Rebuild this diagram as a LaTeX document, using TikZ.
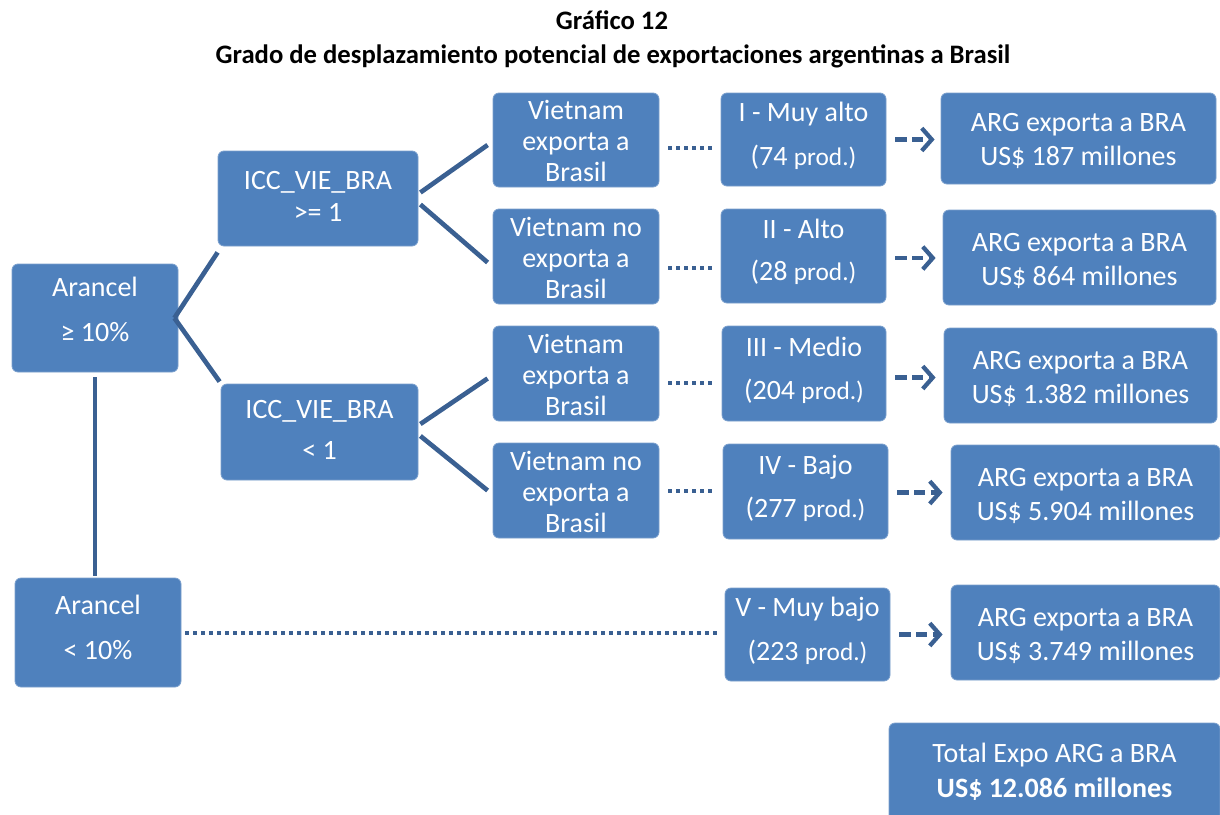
\documentclass[tikz,border=0pt]{standalone}
\usepackage{fontspec}
\setmainfont{Carlito}
\usetikzlibrary{fit,arrows.meta}
\definecolor{boxblue}{HTML}{4F81BD}
\definecolor{lineblue}{HTML}{3A6092}
\tikzset{
  box/.style={fill=boxblue, draw=boxblue!75!white, line width=0.6pt, rounded corners=4.5pt,
    inner sep=0pt},
  btxt/.style={inner sep=0pt, text=white, align=center, font=\fontsize{21}{23.25}\selectfont},
  conn/.style={draw=lineblue, line width=3.5pt},
  dotline/.style={draw=lineblue, line width=3pt, dash pattern=on 3pt off 3pt},
  dasharrow/.style={draw=lineblue, line width=3.2pt, dash pattern=on 8.5pt off 4pt,
    -{Straight Barb[length=7.5pt,width=17pt,line width=3.2pt]}},
  ttl/.style={font=\fontsize{20}{22}\selectfont\bfseries, inner sep=0pt}
}
\newcommand\bx[7]{\node[box, fit={(#2,#3)(#4,#5)}] (#1) {};
  \node[btxt] (#1t) at ([shift={(0,#6)}]#1.center) {#7};}
\newcommand\sm[1]{{\fontsize{19}{20}\selectfont #1}}
\begin{document}
\begin{tikzpicture}[x=0.75pt,y=-0.75pt]
\useasboundingbox (0,0) rectangle (1220,814);
\node[ttl] (t1) at (612,20) {Gráfico 12};
\node[ttl] (t2) at (613,56) {Grado de desplazamiento potencial de exportaciones argentinas a Brasil};
% left
\bx{a1}{12}{264}{178}{372}{-9}{Arancel\\[10.5pt]≥ 10\%}
\bx{a2}{15}{578}{181}{687}{-5}{Arancel\\[10.5pt]< 10\%}
\bx{c1}{218}{151}{418}{246}{-2.5}{ICC\_VIE\_BRA\\[0.75pt] >= 1}
\bx{c2}{221}{384}{418}{480}{-2}{ICC\_VIE\_BRA\\[7.5pt] < 1}
% vietnam
\bx{v1}{493}{93}{659}{187}{1}{Vietnam\\exporta a\\Brasil}
\bx{v2}{493}{209}{659}{304}{1}{Vietnam no\\exporta a\\Brasil}
\bx{v3}{493}{326}{659}{421}{1}{Vietnam\\exporta a\\Brasil}
\bx{v4}{493}{443}{659}{538}{1}{Vietnam no\\exporta a\\Brasil}
% levels
\bx{l1}{721}{93}{886}{186}{-3.5}{I - Muy alto\\[9.75pt](74 \sm{prod.)}}
\bx{l2}{721}{209}{886}{303}{-4.5}{II - Alto\\[8pt](28 \sm{prod.)}}
\bx{l3}{722}{326}{886}{421}{-3.5}{III - Medio\\[9pt](204 \sm{prod.)}}
\bx{l4}{723}{444}{888}{539}{-3.5}{IV - Bajo\\[9pt](277 \sm{prod.)}}
\bx{l5}{725}{588}{890}{681}{-3.5}{V - Muy bajo\\[9.75pt](223 \sm{prod.)}}
% ARG
\bx{g1}{941}{93}{1216}{184}{2}{ARG exporta a BRA\\[2.25pt]US\$ 187 millones}
\bx{g2}{943}{210}{1216}{305}{3.5}{ARG exporta a BRA\\[2.25pt]US\$ 864 millones}
\bx{g3}{944}{328}{1217}{423}{3}{ARG exporta a BRA\\[2.25pt]US\$ 1.382 millones}
\bx{g4}{951}{445}{1220}{540}{3}{ARG exporta a BRA\\[2.25pt]US\$ 5.904 millones}
\bx{g5}{951}{585}{1220}{680}{3}{ARG exporta a BRA\\[2.25pt]US\$ 3.749 millones}
\bx{tot}{889}{723}{1220}{822}{-0.5}{Total Expo ARG a BRA\\[3pt]\textbf{US\$ 12.086 millones}}
% connectors
\draw[conn] ([xshift=-3]a1.east) -- ([shift={(0,6)}]c1.south west);
\draw[conn] ([xshift=-3]a1.east) -- ([shift={(-1,-2)}]c2.north west);
\draw[conn] ([shift={(0,5)}]a1.south) -- ([shift={(0,-2)}]a1.south |- a2.north);
\draw[conn] ([shift={(2,-6)}]c1.east) -- ([shift={(-5,5)}]v1.west);
\draw[conn] ([shift={(2,6)}]c1.east) -- ([shift={(-5,6)}]v2.west);
\draw[conn] ([shift={(2,-8)}]c2.east) -- ([shift={(-5,5)}]v3.west);
\draw[conn] ([shift={(2,4)}]c2.east) -- ([shift={(-5,0)}]v4.west);
% dotted
\draw[dotline] ([shift={(9,8)}]v1.east) -- ([shift={(-7,8)}]v1.east -| l1.west);
\draw[dotline] ([shift={(9,11)}]v2.east) -- ([shift={(-7,11)}]v2.east -| l2.west);
\draw[dotline] ([shift={(9,9)}]v3.east) -- ([shift={(-7,9)}]v3.east -| l3.west);
\draw[dotline] ([shift={(9,0)}]v4.east) -- ([shift={(-7,0)}]v4.east -| l4.west);
\draw[dotline] ([shift={(4,0)}]a2.east) -- ([shift={(-5,0)}]a2.east -| l5.west);
% dashed arrows
\draw[dasharrow] ([shift={(9,0)}]l1.east) -- ([shift={(-6,0)}]l1.east -| g1.west);
\draw[dasharrow] ([shift={(9,2)}]l2.east) -- ([shift={(-7,2)}]l2.east -| g2.west);
\draw[dasharrow] ([shift={(9,4)}]l3.east) -- ([shift={(-8,4)}]l3.east -| g3.west);
\draw[dasharrow] ([shift={(9,1)}]l4.east) -- ([shift={(-8,1)}]l4.east -| g4.west);
\draw[dasharrow] ([shift={(9,0)}]l5.east) -- ([shift={(-8,0)}]l5.east -| g5.west);
\end{tikzpicture}
\end{document}
